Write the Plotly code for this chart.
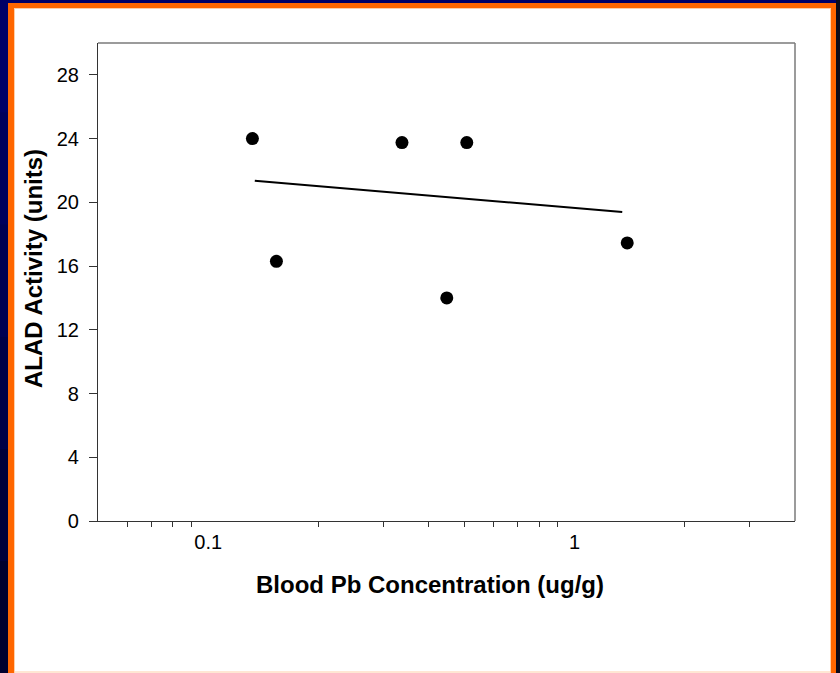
import plotly.graph_objects as go

# ---- data ----
blood_pb = [0.132, 0.1535, 0.338, 0.508, 0.448, 1.393]
alad = [24.0, 16.3, 23.75, 23.75, 14.0, 17.45]
fit_x = [0.134, 1.35]
fit_y = [21.35, 19.4]
y_ticks = [0, 4, 8, 12, 16, 20, 24, 28]
x_labels = [0.1, 1]
x_minor = [0.06, 0.07, 0.08, 0.09, 0.2, 0.3, 0.4, 0.5, 0.6, 0.7, 0.8, 0.9, 2, 3]

W, H = 840, 673
L, R, T, B = 98, 795, 43, 521
pw, ph = R - L, B - T


def px(x):
    return (x - L) / pw


def py(y):
    return (B - y) / ph


FONT = "Liberation Sans, Arial, sans-serif"

fig = go.Figure()
fig.add_trace(go.Scatter(x=fit_x, y=fit_y, mode="lines",
                         line=dict(color="black", width=2), showlegend=False,
                         hoverinfo="skip"))
fig.add_trace(go.Scatter(x=blood_pb, y=alad, mode="markers",
                         marker=dict(color="black", size=13), showlegend=False))

shapes = []
# background frame: navy left band with slight darkening downward
bands = ["#000066", "#00005c", "#000052", "#000046", "#00003a", "#00002e"]
n = len(bands)
for i, c in enumerate(bands):
    shapes.append(dict(type="rect", xref="paper", yref="paper", layer="below",
                       x0=px(0), x1=px(W), y0=py(H * i / n), y1=py(H * (i + 1) / n),
                       fillcolor=c, line=dict(width=0)))
# right dark strip
shapes.append(dict(type="rect", xref="paper", yref="paper", layer="below",
                   x0=px(836), x1=px(W), y0=py(0), y1=py(H),
                   fillcolor="#0a0a1a", line=dict(width=0)))
# orange frame
shapes.append(dict(type="rect", xref="paper", yref="paper", layer="below",
                   x0=px(8), x1=px(836), y0=py(3), y1=py(H + 5),
                   fillcolor="#ff6600", line=dict(width=0)))
# light edge
shapes.append(dict(type="rect", xref="paper", yref="paper", layer="below",
                   x0=px(14), x1=px(831), y0=py(8), y1=py(H + 5),
                   fillcolor="#ffcfa8", line=dict(width=0)))
# white panel
shapes.append(dict(type="rect", xref="paper", yref="paper", layer="below",
                   x0=px(15), x1=px(830), y0=py(9), y1=py(671.5),
                   fillcolor="white", line=dict(width=0)))
shapes.append(dict(type="rect", xref="paper", yref="paper", layer="below",
                   x0=px(15), x1=px(830), y0=py(672.5), y1=py(H + 5),
                   fillcolor="white", line=dict(width=0)))
# top and right frame lines of the plot box (lighter grey)
shapes.append(dict(type="line", xref="paper", yref="paper", x0=0, x1=1, y0=1, y1=1,
                   line=dict(color="#7a7a7a", width=1.5)))
shapes.append(dict(type="line", xref="paper", yref="paper", x0=1, x1=1, y0=0, y1=1,
                   line=dict(color="#7a7a7a", width=1.5)))

fig.update_layout(
    width=W, height=H,
    margin=dict(l=L, r=W - R, t=T, b=H - B),
    paper_bgcolor="#000066", plot_bgcolor="white",
    font=dict(family=FONT, color="black", size=20),
    shapes=shapes,
    xaxis=dict(type="log", range=[-1.30103, 0.60206], showgrid=False, zeroline=False,
               showline=True, linecolor="#333333", linewidth=1.2, mirror=False,
               tickmode="array", tickvals=x_labels, ticktext=["0.1", "1"],
               ticks="", ticklabelstandoff=3,
               tickfont=dict(size=20, family=FONT),
               minor=dict(tickmode="array", tickvals=x_minor, ticks="outside",
                          ticklen=5, tickcolor="#333333", tickwidth=1.2, showgrid=False)),
    yaxis=dict(range=[0, 30], showgrid=False, zeroline=False,
               showline=True, linecolor="#333333", linewidth=1.2, mirror=False,
               tickmode="array", tickvals=y_ticks, ticks="outside", ticklen=8,
               tickwidth=1.2, tickcolor="#333333", ticklabelstandoff=6,
               tickfont=dict(size=20, family=FONT)),
    annotations=[
        dict(text="<b>Blood Pb Concentration (ug/g)</b>", xref="paper", yref="paper",
             x=px(430), y=py(584), showarrow=False, font=dict(size=24, family=FONT),
             xanchor="center", yanchor="middle"),
        dict(text="<b>ALAD Activity (units)</b>", xref="paper", yref="paper",
             x=px(33), y=py(269), showarrow=False, textangle=-90,
             font=dict(size=24, family=FONT), xanchor="center", yanchor="middle"),
    ],
)

fig.write_html("out.html")
